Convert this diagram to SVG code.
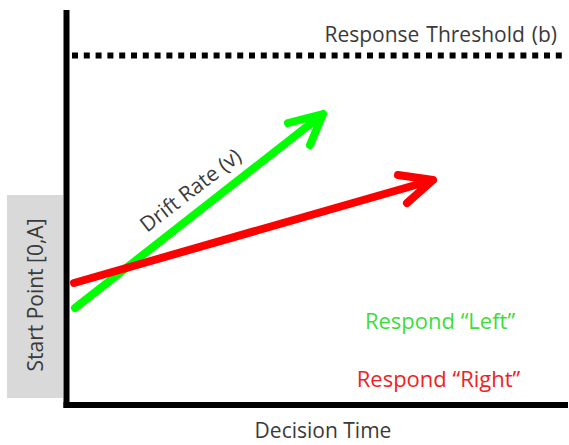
<svg xmlns="http://www.w3.org/2000/svg" width="569" height="445" viewBox="0 0 569 445">
<style>
text{font-family:"Open Sans","Liberation Sans",sans-serif;font-size:21px;fill:#3a3a3a}
.ax{stroke:#000;stroke-width:6;fill:none}
.g{stroke:#00ff00;stroke-width:8;fill:none;stroke-linecap:round;stroke-linejoin:round}
.r{stroke:#ff0000;stroke-width:8;fill:none;stroke-linecap:round;stroke-linejoin:round}
.resp{font-size:22px}
</style>
<rect width="569" height="445" fill="#fff"/>
<g id="start-point">
<rect x="7" y="195" width="56" height="203" fill="#d9d9d9"/>
<text transform="translate(43,295) rotate(-90)" text-anchor="middle" font-size="20.5">Start Point [0,A]</text>
</g>
<g id="axes">
<line class="ax" x1="66.5" y1="10" x2="66.5" y2="408"/>
<line class="ax" x1="63.5" y1="405" x2="568" y2="405"/>
<text x="323" y="438" text-anchor="middle" font-size="20">Decision Time</text>
</g>
<g id="threshold">
<line x1="72" y1="55.5" x2="562" y2="55.5" stroke="#000" stroke-width="6" stroke-dasharray="6 5.8"/>
<text x="557" y="42" text-anchor="end" font-size="20" word-spacing="1.5">Response Threshold (b)</text>
</g>
<g id="connectors">
<path class="g" d="M75,308 L323,114 M288,123 L323,114 L310,145"/>
<path class="r" d="M74,283 L433,180 M398,175 L433,180 L407,203"/>
</g>
<g id="labels">
<text transform="translate(195,196) rotate(-37.7)" text-anchor="middle">Drift Rate (v)</text>
<text class="resp" x="440" y="329" text-anchor="middle" style="fill:#3ddc3d">Respond “Left”</text>
<text class="resp" x="438.5" y="387" text-anchor="middle" style="fill:#ee2222">Respond “Right”</text>
</g>
</svg>
